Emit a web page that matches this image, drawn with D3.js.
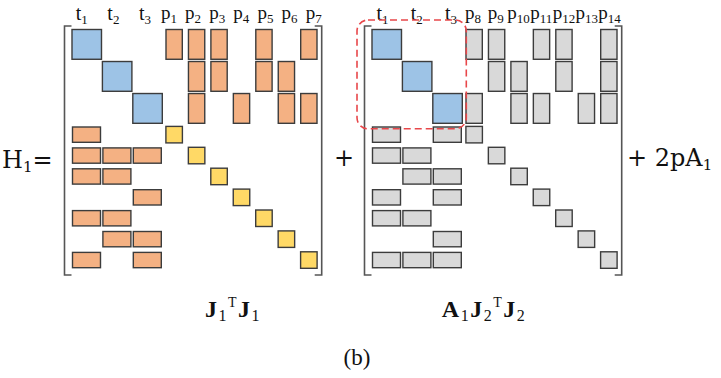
<!DOCTYPE html>
<html>
<head>
<meta charset="utf-8">
<script src="https://cdn.jsdelivr.net/npm/d3@7/dist/d3.min.js"></script>
<style>
  html, body { margin: 0; padding: 0; background: #fff; }
  svg { display: block; }
  text { font-family: "Liberation Serif", "DejaVu Serif", serif; fill: #111; }
</style>
</head>
<body>
<svg id="chart" width="721" height="378"></svg>
<script>
// Block structure of the two Hessian terms.
const tCols = ["t1", "t2", "t3"];
const pColsA = ["p1", "p2", "p3", "p4", "p5", "p6", "p7"];
const pColsB = ["p8", "p9", "p10", "p11", "p12", "p13", "p14"];
// For each t row: indices of the p columns it couples to
const linksA = [[0, 1, 2, 4, 6], [1, 2, 4, 5], [1, 3, 5, 6]];
const linksB = [[0, 1, 3, 4, 6], [1, 2, 4, 6], [0, 2, 3, 5, 6]];

const colors = {
  blue: "#9dc3e6",
  orange: "#f4b183",
  yellow: "#ffd966",
  gray: "#d9d9d9",
  edge: "#3c3c3c",
  bracket: "#555",
  highlight: "#e8474a"
};

const svg = d3.select("#chart");

// Shared geometry of one matrix (panel-local coordinates)
const tBand = d3.scaleBand().domain([0, 1, 2]).range([72, 162.3]).paddingInner(0.03);
const pBand = d3.scaleBand().domain(d3.range(7)).range([166, 317]).paddingInner(0.274);
const topRow = d3.scaleBand().domain([0, 1, 2]).range([29.5, 123.3]).paddingInner(0.07);
const lowRow = d3.scaleBand().domain(d3.range(7)).range([127, 267.7]).paddingInner(0.268);
const diagSize = 16.5;

const panels = [
  { dx: 0, pCols: pColsA, links: linksA, fill: colors.orange, diag: colors.yellow,
    tLab: [81.7, 145], pLab: [169, 313.7], highlight: false },
  { dx: 300, pCols: pColsB, links: linksB, fill: colors.gray, diag: colors.gray,
    tLab: [82.5, 151], pLab: [173, 309.5], highlight: true }
];

function label(sel, base, sub) {
  sel.append("tspan").text(base);
  sel.append("tspan").attr("font-size", 13).attr("dy", 4).text(sub);
}

panels.forEach(P => {
  const g = svg.append("g").attr("transform", `translate(${P.dx},0)`);

  // column headers
  const tLabel = d3.scalePoint().domain(tCols).range(P.tLab);
  const pLabel = d3.scalePoint().domain(P.pCols).range(P.pLab);
  tCols.forEach(c => {
    g.append("text").attr("x", tLabel(c)).attr("y", 20).attr("text-anchor", "middle")
      .attr("font-size", 20).call(label, c[0], c.slice(1));
  });
  P.pCols.forEach(c => {
    g.append("text").attr("x", pLabel(c)).attr("y", 19).attr("text-anchor", "middle")
      .attr("font-size", 19).call(label, c[0], c.slice(1));
  });

  // brackets
  g.append("path").attr("fill", "none").attr("stroke", colors.bracket).attr("stroke-width", 1.6)
    .attr("d", "M71.5,26H64.5V275H71.5");
  g.append("path").attr("fill", "none").attr("stroke", colors.bracket).attr("stroke-width", 1.6)
    .attr("d", "M314.7,26H321.7V275H314.7");

  const blocks = [];
  // t-t diagonal blocks
  tCols.forEach((c, i) => blocks.push({
    x: tBand(i), y: topRow(i), w: tBand.bandwidth(), h: topRow.bandwidth(), fill: colors.blue }));
  // t-p coupling blocks (upper right) and their transposes (lower left)
  P.links.forEach((row, i) => row.forEach(j => {
    blocks.push({ x: pBand(j), y: topRow(i), w: pBand.bandwidth(), h: topRow.bandwidth(), fill: P.fill });
    blocks.push({ x: tBand(i) + 0.5, y: lowRow(j), w: tBand.bandwidth() - 1.5, h: lowRow.bandwidth(), fill: P.fill });
  }));
  // p-p diagonal blocks
  P.pCols.forEach((c, j) => blocks.push({
    x: pBand(j) + pBand.bandwidth() / 2 - diagSize / 2,
    y: lowRow(j) + lowRow.bandwidth() / 2 - diagSize / 2,
    w: diagSize, h: diagSize, fill: P.diag }));

  g.selectAll("rect.blk").data(blocks).join("rect").attr("class", "blk")
    .attr("x", d => d.x).attr("y", d => d.y).attr("width", d => d.w).attr("height", d => d.h)
    .attr("fill", d => d.fill).attr("stroke", colors.edge).attr("stroke-width", 1.4);

  if (P.highlight) {
    const x0 = tBand(0) - 15, x1 = tBand(2) + tBand.bandwidth() + 4;
    const y0 = topRow(0) - 9.5, y1 = topRow(2) + topRow.bandwidth() + 5.5;
    g.append("rect").attr("x", x0).attr("y", y0).attr("width", x1 - x0).attr("height", y1 - y0)
      .attr("rx", 11).attr("fill", "none").attr("stroke", colors.highlight)
      .attr("stroke-width", 1.6).attr("stroke-dasharray", "7,4");
  }
});

// equation text
const eqFont = "'DejaVu Serif', serif";
const H = svg.append("text").attr("x", 2).attr("y", 168).attr("font-size", 24)
  .style("font-family", eqFont);
H.append("tspan").text("H");
H.append("tspan").attr("font-size", 15).attr("dy", 4).text("1");
H.append("tspan").attr("dy", -4).text("=");

svg.append("text").attr("x", 344).attr("y", 166).attr("text-anchor", "middle")
  .style("font-family", eqFont).attr("font-size", 24).text("+");

const R = svg.append("text").attr("x", 627).attr("y", 166).attr("font-size", 24)
  .style("font-family", eqFont);
R.append("tspan").text("+ 2pA");
R.append("tspan").attr("font-size", 15).attr("dy", 4).text("1");

function term(x, parts) {
  const t = svg.append("text").attr("x", x).attr("y", 317).attr("font-size", 24)
    .attr("text-anchor", "middle").attr("letter-spacing", 1.5);
  parts.forEach(([s, kind]) => {
    const ts = t.append("tspan").text(s);
    if (kind === "sub") ts.attr("font-size", 16).attr("dy", 4);
    else if (kind === "sup") ts.attr("font-size", 14).attr("dy", -14);
    else if (kind === "back") ts.attr("font-weight", "bold").attr("dy", 10);
    else if (kind === "back0") ts.attr("font-weight", "bold").attr("dy", -4);
    else ts.attr("font-weight", "bold");
  });
}
term(233, [["J"], ["1", "sub"], ["T", "sup"], ["J", "back"], ["1", "sub"]]);
term(484, [["A"], ["1", "sub"], ["J", "back0"], ["2", "sub"], ["T", "sup"], ["J", "back"], ["2", "sub"]]);

svg.append("text").attr("x", 357).attr("y", 365).attr("text-anchor", "middle")
  .attr("font-size", 23).text("(b)");
</script>
</body>
</html>
